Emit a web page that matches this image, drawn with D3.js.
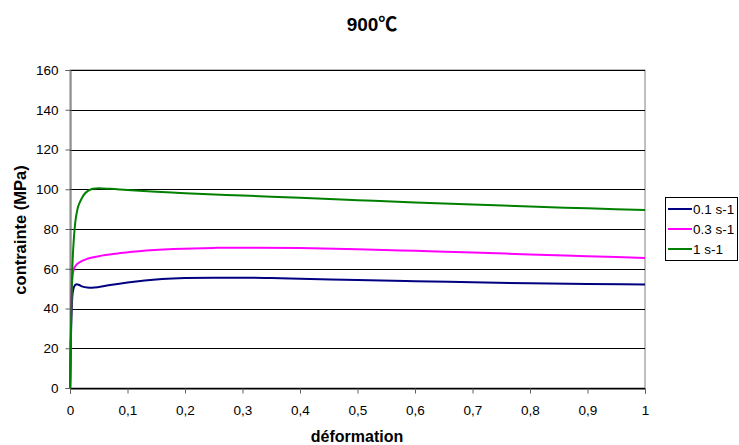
<!DOCTYPE html>
<html><head><meta charset="utf-8">
<script src="https://cdn.jsdelivr.net/npm/d3@7"></script>
<style>body{margin:0;background:#fff;}svg{display:block;font-family:"Liberation Sans",Arial,sans-serif;}</style>
</head><body><svg id="c" width="739" height="445"></svg>
<script>
const xTicks = [0,0.1,0.2,0.3,0.4,0.5,0.6,0.7,0.8,0.9,1];
const xTickLabels = ["0","0,1","0,2","0,3","0,4","0,5","0,6","0,7","0,8","0,9","1"];
const yTicks = [0,20,40,60,80,100,120,140,160];
const seriesNames = ["0.1 s-1","0.3 s-1","1 s-1"];
const seriesColors = ["#000080","#ff00ff","#008000"];
const strain01 = [0,0.002,0.004,0.006,0.009,0.012,0.016,0.022,0.03,0.038,0.05,0.07,0.1,0.13,0.16,0.2,0.25,0.3,0.35,0.4,0.5,0.6,0.7,0.8,0.9,1.0];
const stress01 = [0,30,46,50,51.8,52.2,51.8,51,50.6,50.5,50.8,51.8,53.1,54.1,54.8,55.3,55.5,55.5,55.3,55,54.3,53.7,53.2,52.7,52.3,52.1];
const strain03 = [0,0.002,0.004,0.006,0.009,0.013,0.02,0.03,0.05,0.08,0.12,0.18,0.25,0.3,0.4,0.5,0.6,0.7,0.8,0.9,1.0];
const stress03 = [0,38,55,59,61.2,62.5,63.8,65,66.3,67.6,68.8,69.9,70.5,70.6,70.4,69.8,69,68.2,67.2,66.3,65.4];
const strain1 = [0,0.002,0.004,0.006,0.009,0.013,0.018,0.024,0.032,0.04,0.05,0.07,0.1,0.15,0.2,0.3,0.4,0.5,0.6,0.7,0.8,0.9,1.0];
const stress1 = [0,35,60,72,83,90,94,97.2,99.3,100.2,100.5,100.2,99.6,98.8,98,96.8,95.7,94.5,93.3,92.3,91.3,90.4,89.5];

const svg = d3.select("#c");
const L=70, R=645, T=70, B=388;
const x = d3.scaleLinear().domain([0,1]).range([L,R]);
const y = d3.scaleLinear().domain([0,160]).range([B,T]);

svg.append("rect").attr("x",L).attr("y",T).attr("width",R-L).attr("height",B-T)
  .attr("fill","none").attr("stroke","#808080").attr("stroke-width",1);
svg.append("g").selectAll("line").data(yTicks).join("line")
  .attr("x1",L).attr("x2",R).attr("y1",d=>Math.round(y(d))+0.5).attr("y2",d=>Math.round(y(d))+0.5)
  .attr("stroke","#000").attr("stroke-width",1);

const yAxis = svg.append("g").attr("transform",`translate(${L+0.5},0)`)
  .call(d3.axisLeft(y).tickValues(yTicks).tickSize(5).tickPadding(7).tickFormat(d=>d));
yAxis.select(".domain").attr("stroke","#606060");
yAxis.selectAll(".tick line").attr("stroke","#606060");
yAxis.selectAll("text").attr("font-size",13.5).attr("fill","#000").attr("font-family","Liberation Sans, Arial, sans-serif");

const xAxis = svg.append("g").attr("transform",`translate(0,${B+0.5})`)
  .call(d3.axisBottom(x).tickValues(xTicks).tickSize(5).tickPadding(12).tickFormat((d,i)=>xTickLabels[i]));
xAxis.select(".domain").attr("stroke","#000");
xAxis.selectAll(".tick line").attr("stroke","#606060");
xAxis.selectAll("text").attr("font-size",13.5).attr("fill","#000").attr("font-family","Liberation Sans, Arial, sans-serif");

const data = [[strain01,stress01],[strain03,stress03],[strain1,stress1]];
const line = d3.line().x(d=>x(d[0])).y(d=>y(d[1])).curve(d3.curveMonotoneX);
data.forEach((s,i)=>{
  const pts = s[0].map((v,j)=>[v,s[1][j]]);
  svg.append("path").attr("d",line(pts)).attr("fill","none")
    .attr("stroke",seriesColors[i]).attr("stroke-width",2);
});

const title = svg.append("text").attr("x",372).attr("y",31).attr("text-anchor","middle")
  .attr("font-size",19).attr("font-weight","bold");
title.append("tspan").text("900");
title.append("tspan").attr("font-family","Noto Sans CJK SC, sans-serif").text("℃");
svg.append("text").attr("x",357).attr("y",441.5).attr("text-anchor","middle")
  .attr("font-size",16).attr("font-weight","bold").text("déformation");
svg.append("text").attr("transform",`translate(26,230) rotate(-90)`).attr("text-anchor","middle")
  .attr("font-size",16.5).attr("font-weight","bold").text("contrainte (MPa)");

const lg = svg.append("g");
lg.append("rect").attr("x",665.5).attr("y",197.5).attr("width",72).attr("height",63)
  .attr("fill","#fff").attr("stroke","#000");
seriesNames.forEach((n,i)=>{
  const yy = 209 + i*20;
  lg.append("line").attr("x1",668).attr("x2",692).attr("y1",yy).attr("y2",yy)
    .attr("stroke",seriesColors[i]).attr("stroke-width",2);
  lg.append("text").attr("x",693).attr("y",yy+5).attr("font-size",13.5).text(n);
});
</script></body></html>
